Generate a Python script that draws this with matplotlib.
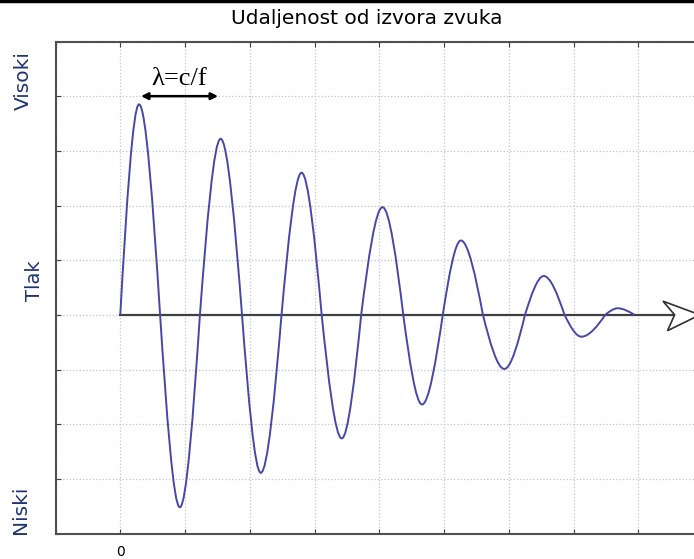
import numpy as np
import matplotlib
matplotlib.use('Agg')
import matplotlib.pyplot as plt
from matplotlib.path import Path
from matplotlib.patches import PathPatch, Polygon
from matplotlib.lines import Line2D

# key points of the damped wave: zero crossings and extremes
wave_x = [0, 0.29, 0.615, 0.92, 1.23, 1.55, 1.88, 2.17, 2.49, 2.80, 3.11, 3.42, 3.72,
          4.05, 4.37, 4.66, 4.98, 5.26, 5.60, 5.93, 6.25, 6.54, 6.86, 7.12, 7.49, 7.68, 7.94]
wave_y = [0, 3.85, 0, -3.52, 0, 3.22, 0, -2.89, 0, 2.60, 0, -2.26, 0,
          1.97, 0, -1.64, 0, 1.36, 0, -0.99, 0, 0.71, 0, -0.40, 0, 0.12, 0]

lam_start, lam_end, lam_y = 0.32, 1.51, 4.0
axis_tip = 8.95

title = 'Udaljenost od izvora zvuka'
y_labels = ['Visoki', 'Tlak', 'Niski']

wave_color = '#4747a8'
label_color = '#1f3470'

fig = plt.figure(figsize=(6.94, 5.59), dpi=100)
ax = fig.add_axes([55.5 / 694, 25.5 / 559, 680 / 694, 492 / 559])
ax.set_xlim(-1, 9.5)
ax.set_ylim(-4, 5)

# smooth curve through the key points, quarter-wave bezier pieces
verts = [(wave_x[0], wave_y[0])]
codes = [Path.MOVETO]
for i in range(len(wave_x) - 1):
    x0, y0 = wave_x[i], wave_y[i]
    x1, y1 = wave_x[i + 1], wave_y[i + 1]
    w = x1 - x0
    if y0 == 0:
        c1 = (x0 + 0.326 * w, 0.512 * y1)
        c2 = (x0 + 0.675 * w, y1)
    else:
        c1 = (x0 + 0.325 * w, y0)
        c2 = (x0 + 0.674 * w, 0.512 * y0)
    verts += [c1, c2, (x1, y1)]
    codes += [Path.CURVE4] * 3
ax.add_patch(PathPatch(Path(verts, codes), fill=False, ec=wave_color, lw=1.4, zorder=4))

# distance axis with hollow arrow head
head_len, head_w = 0.57, 0.25
ax.plot([0, axis_tip - 0.39], [0, 0], color='#404040', lw=1.6, zorder=3)
ax.add_patch(Polygon([(axis_tip, 0), (axis_tip - head_len, head_w),
                      (axis_tip - 0.39, 0), (axis_tip - head_len + 0.07, -head_w - 0.04)],
                     closed=True, fc='white', ec='#303030', lw=1.2, zorder=3))

# wavelength marker
ax.annotate('', xy=(lam_start, lam_y), xytext=(lam_end, lam_y),
            arrowprops=dict(arrowstyle='<|-|>', color='black', lw=1.8,
                            mutation_scale=10, shrinkA=0, shrinkB=0), zorder=5)
ax.text((lam_start + lam_end) / 2, lam_y + 0.12, r'λ=c/f', ha='center', va='bottom',
        family='Liberation Serif', fontsize=19)

ax.set_xticks(range(-1, 10))
ax.set_xticklabels(['0' if t == 0 else '' for t in range(-1, 10)], fontsize=10)
ax.set_yticks(range(-4, 6))
ax.set_yticklabels([])
ax.tick_params(direction='in', length=3.5, width=0.8, colors='#404040', top=True,
               pad=8, labelcolor='black')
ax.grid(True, linestyle=':', color='#c4c4c4', lw=0.9)
for side in ['left', 'top', 'bottom']:
    ax.spines[side].set_color('#505050')
    ax.spines[side].set_linewidth(1.5)
ax.spines['right'].set_visible(False)

fig.text(367 / 694, 1 - 19 / 559, title, ha='center', va='center', fontsize=14.5)
fig.text(23 / 694, 1 - 81 / 559, y_labels[0], rotation=90, ha='center', va='center',
         fontsize=14.5, color=label_color)
fig.text(35 / 694, 1 - 281 / 559, y_labels[1], rotation=90, ha='center', va='center',
         fontsize=14, color=label_color)
fig.text(21 / 694, 1 - 510 / 559, y_labels[2], rotation=90, ha='center', va='center',
         fontsize=14.5, color=label_color)

fig.add_artist(Line2D([0, 1], [0.998, 0.998], color='black', lw=2.5, transform=fig.transFigure))

fig.savefig('out.png', dpi=100)
